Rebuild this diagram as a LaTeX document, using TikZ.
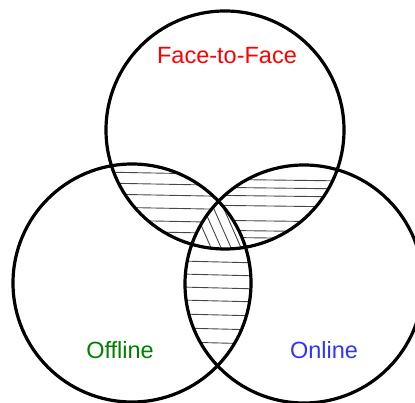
\documentclass[tikz,border=0pt]{standalone}
\usepackage{fontspec}
\setmainfont{Liberation Sans}
\usetikzlibrary{positioning}
\definecolor{FaceRed}{RGB}{255,0,0}
\definecolor{OffGreen}{RGB}{0,128,0}
\definecolor{OnBlue}{RGB}{51,51,255}
\definecolor{HatchGray}{RGB}{70,70,70}

\begin{document}
\begin{tikzpicture}[x=1pt,y=-1pt,
  ring/.style={draw=black,line width=3.2pt},
  hatch/.style={draw=HatchGray,line width=0.9pt},
  lbl/.style={font=\fontsize{23.5}{26}\selectfont,anchor=base,inner sep=0pt},
]
\useasboundingbox (0,0) rectangle (415,403);
\clip (0,0) rectangle (415,403);
% circle centres
\coordinate (ftf) at (225,130);
\coordinate (off) at (132,283);
\coordinate (onl) at (304,284);
\def\rad{119pt}
% Face-to-Face and Offline only
\begin{scope}[even odd rule]
  \clip (ftf) circle[radius=\rad];
  \clip (off) circle[radius=\rad];
  \clip (0,0) rectangle (415,403) (onl) circle[radius=\rad];
  \foreach \y in {172,183,194,207,220,231}
    \draw[hatch] (100,\y) -- (260,\y+3);
\end{scope}
% Face-to-Face and Online only
\begin{scope}[even odd rule]
  \clip (ftf) circle[radius=\rad];
  \clip (onl) circle[radius=\rad];
  \clip (0,0) rectangle (415,403) (off) circle[radius=\rad];
  \foreach \y in {179,187,195,205,220,230,237}
    \draw[hatch] (190,\y) -- (350,\y+2);
\end{scope}
% Offline and Online only
\begin{scope}[even odd rule]
  \clip (off) circle[radius=\rad];
  \clip (onl) circle[radius=\rad];
  \clip (0,0) rectangle (415,403) (ftf) circle[radius=\rad];
  \foreach \y in {261,274,287,300,314,328,342}
    \draw[hatch] (180,\y) -- (260,\y+2);
\end{scope}
% all three
\begin{scope}
  \clip (ftf) circle[radius=\rad];
  \clip (off) circle[radius=\rad];
  \clip (onl) circle[radius=\rad];
  \foreach \x in {190,200,210,220,230}
    \draw[hatch] (\x,200) -- (\x+22,250);
\end{scope}
% rings
\draw[ring] (ftf) circle[radius=\rad];
\draw[ring] (off) circle[radius=\rad];
\draw[ring] (onl) circle[radius=\rad];
% labels
\node[lbl,text=FaceRed] (ftflbl) at (227,64) {Face-to-Face};
\node[lbl,text=OffGreen] (offlbl) at (120,359) {Offline};
\node[lbl,text=OnBlue] (onllbl) at (324,358) {Online};
\end{tikzpicture}
\end{document}
